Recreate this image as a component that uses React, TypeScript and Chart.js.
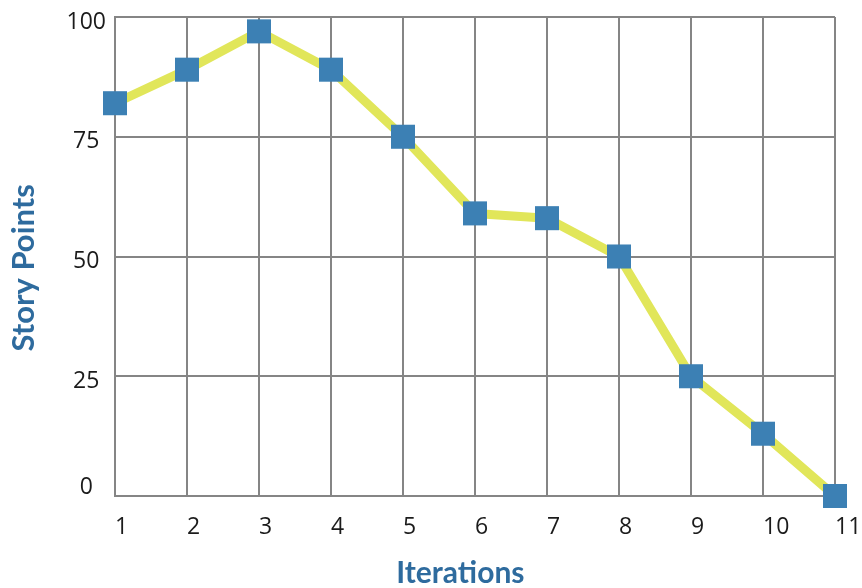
import { useEffect, useRef } from 'react';
import { Chart, registerables } from 'chart.js';

Chart.register(...registerables);

const iterations = ['1', '2', '3', '4', '5', '6', '7', '8', '9', '10', '11'];
const storyPoints = [82, 89, 97, 89, 75, 59, 58, 50, 25, 13, 0];
const yMin = 0;
const yMax = 100;
const yStep = 25;
const xTitle = 'Iterations';
const yTitle = 'Story Points';

const GRID = '#858585';
const LINE = '#e1e65a';
const MARKER = '#3c80b4';
const TITLE = '#2e6b9e';
const TICK = '#1b1b1b';

export default function App() {
  const ref = useRef<HTMLCanvasElement | null>(null);

  useEffect(() => {
    if (!ref.current) return;
    const chart = new Chart(ref.current, {
      type: 'line',
      data: {
        labels: iterations,
        datasets: [
          {
            data: storyPoints,
            borderColor: LINE,
            borderWidth: 9,
            borderJoinStyle: 'round',
            tension: 0,
            pointStyle: 'rect',
            pointRadius: 17,
            pointHoverRadius: 17,
            pointBorderWidth: 0,
            pointBackgroundColor: MARKER,
            pointBorderColor: MARKER,
            clip: false as any,
          },
        ],
      },
      options: {
        animation: false,
        responsive: false,
        events: [],
        layout: { padding: { left: 0, top: 16, right: 27, bottom: 0 } },
        plugins: { legend: { display: false }, tooltip: { enabled: false } },
        scales: {
          x: {
            offset: false,
            grid: { color: GRID, lineWidth: 2, drawTicks: false },
            border: { color: GRID, width: 2 },
            ticks: {
              align: 'start',
              padding: 18,
              color: TICK,
              font: { family: '"Open Sans", sans-serif', size: 23 },
              maxRotation: 0,
              autoSkip: false,
            },
            title: {
              display: true,
              text: xTitle + '    ',
              color: TITLE,
              font: { family: 'Lato, sans-serif', size: 30, weight: 'bold', lineHeight: 1 },
              padding: { top: 0, bottom: 0 },
            },
            afterFit: (s: any) => {
              s.height = 92;
              s.paddingLeft = 0;
              s.paddingRight = 0;
            },
          },
          y: {
            min: yMin,
            max: yMax,
            grid: { color: GRID, lineWidth: 2, drawTicks: false },
            border: { color: GRID, width: 2 },
            ticks: {
              stepSize: yStep,
              crossAlign: 'center',
              padding: 9,
              labelOffset: 5,
              color: TICK,
              font: { family: '"Open Sans", sans-serif', size: 23 },
              callback: (v: any) => (Number(v) === 0 ? ['0', ''] : String(v)),
            },
            title: {
              display: true,
              text: yTitle + '   ',
              color: TITLE,
              font: { family: 'Lato, sans-serif', size: 31, weight: 'bold', lineHeight: 1 },
              padding: { top: 8, bottom: 0 },
            },
            afterFit: (s: any) => {
              s.width = 115;
              s.paddingTop = 0;
              s.paddingBottom = 0;
            },
          },
        },
      },
    });
    return () => chart.destroy();
  }, []);

  return (
    <div style={{ position: 'fixed', left: 0, top: 0, width: 862, height: 588, background: '#fff' }}>
      <canvas ref={ref} width={862} height={588} style={{ display: 'block' }} />
    </div>
  );
}
